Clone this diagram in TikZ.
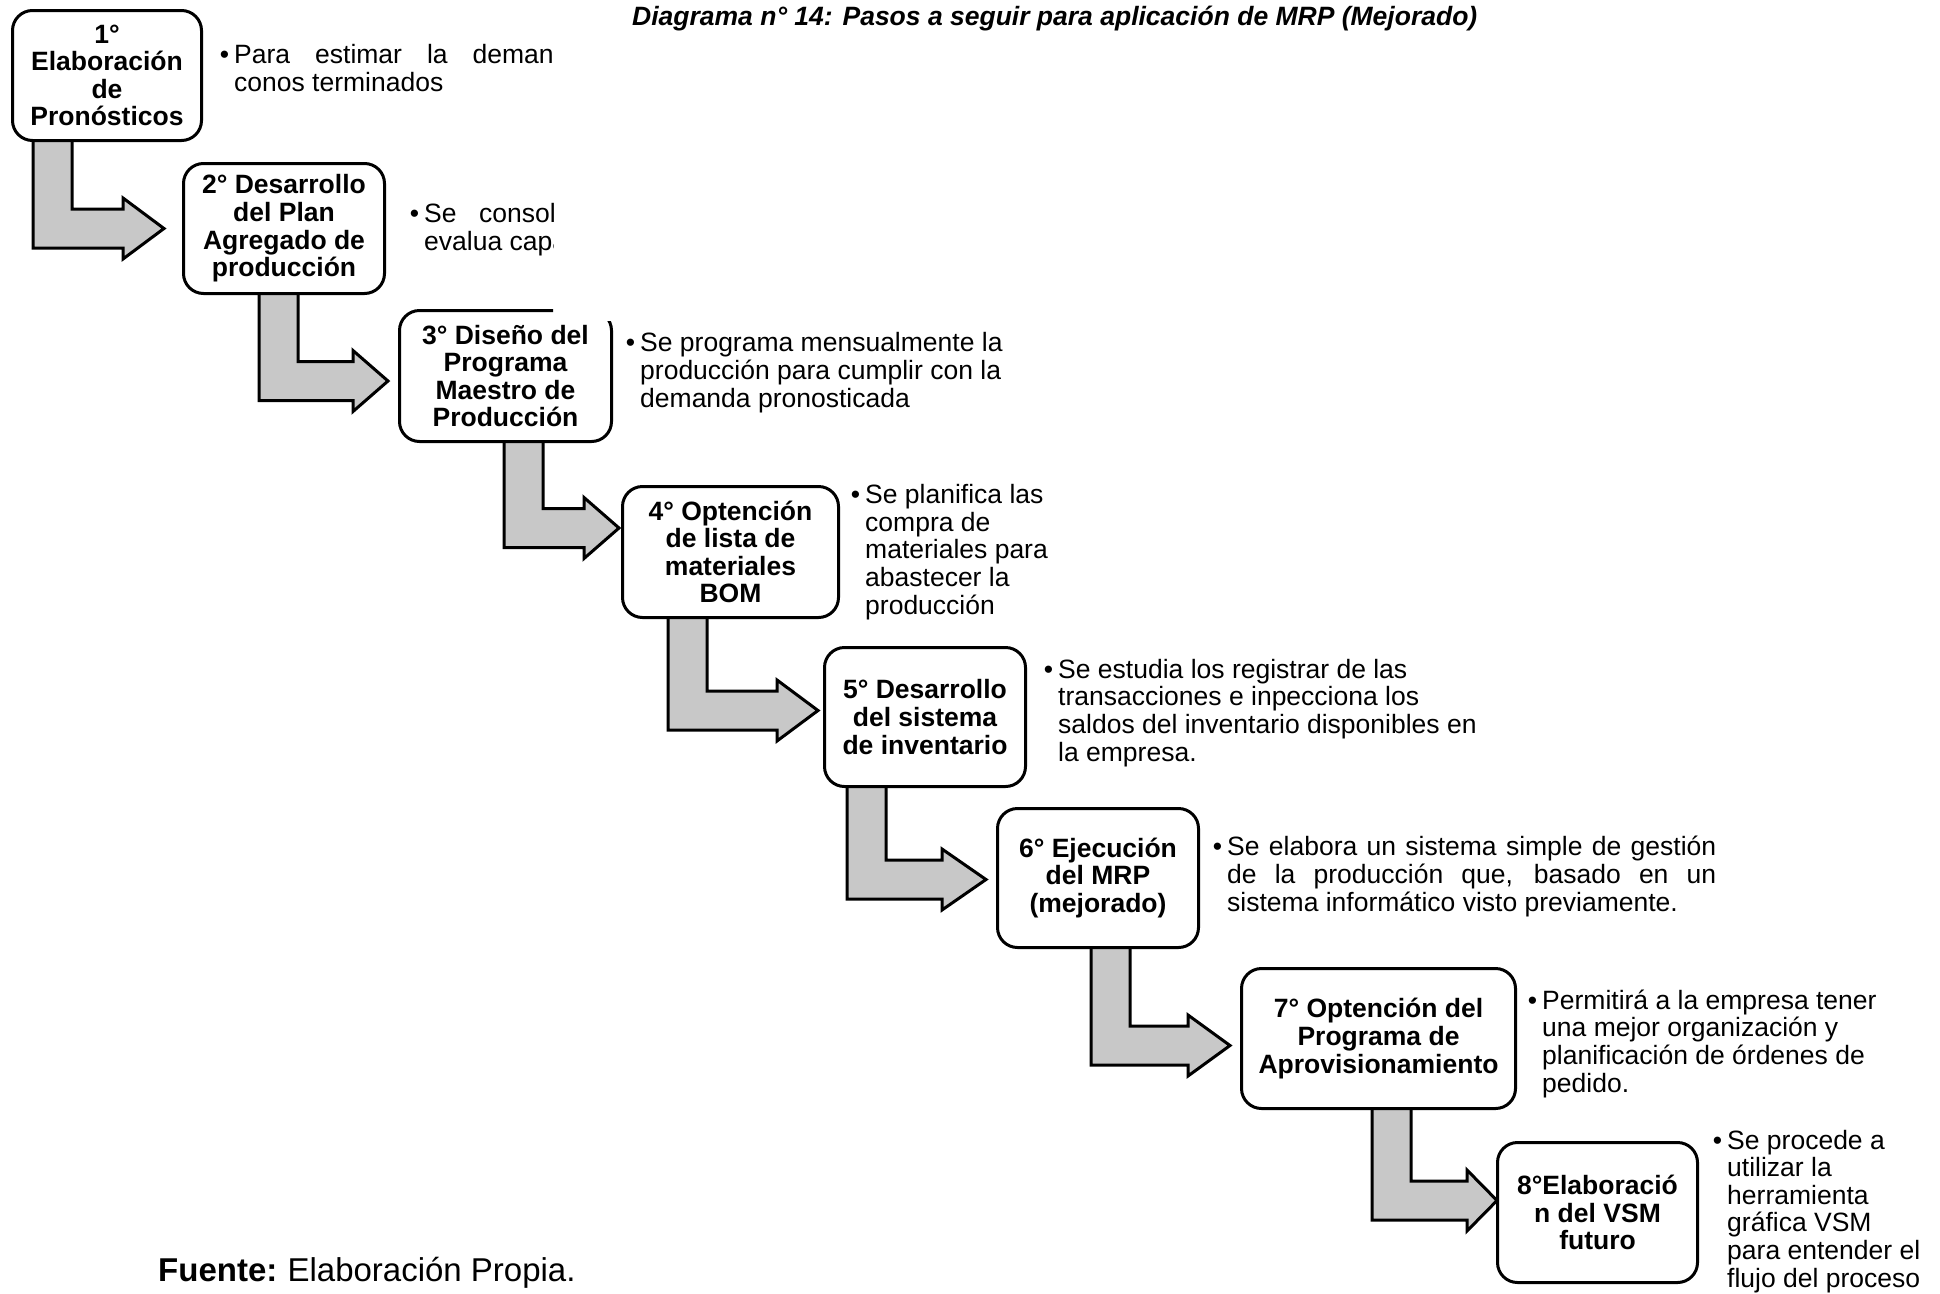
\documentclass[tikz,border=0pt]{standalone}
\usepackage{fontspec}
\setmainfont{Liberation Sans}
\usepackage{xcolor}
\usetikzlibrary{calc,backgrounds}

\definecolor{arrowgray}{RGB}{200,200,200}
\newcommand{\bul}{\llap{\textbullet\hspace{5pt}}}

\tikzset{
    stepbox/.style={draw, line width=3pt, rounded corners=20pt, fill=white,
        align=center, inner sep=0pt, font=\fontsize{26.5}{27.6}\selectfont\bfseries},
    descr/.style={anchor=base west, align=left, inner sep=0pt,
        font=\fontsize{26.5}{27.6}\selectfont},
    flowarrow/.style={draw, line width=3pt, fill=arrowgray, line join=miter}
}

\begin{document}
\begin{tikzpicture}[x=1pt, y=-1pt]
\useasboundingbox (0,0) rectangle (1940,1293);

% Title
\node[anchor=base west, inner sep=0pt, font=\fontsize{26.5}{30}\selectfont\bfseries\itshape]
    (title) at (632,25) {Diagrama n° 14: Pasos a seguir para aplicación de MRP (Mejorado)};

% Steps
\node[stepbox, minimum width=189pt, minimum height=130pt] (b1) at (107,75.5) {1°\\Elaboración\\de\\Pronósticos};
\node[stepbox, minimum width=201pt, minimum height=130pt] (b2) at (284,228.5) {2° Desarrollo\\del Plan\\Agregado de\\producción};
\begin{scope}
\clip (0,0) -- (553,0) -- (553,321) -- (1940,321) -- (1940,1293) -- (0,1293) -- cycle;
\node[stepbox, minimum width=212pt, minimum height=131pt] (b3) at (505.5,376) {3° Diseño del\\Programa\\Maestro de\\Producción};
% (anchored at the baseline of the last line)
\node[descr] (d1) at (234,91) {\bul\makebox[349pt][s]{Para estimar la demanda}\\conos terminados};
\node[descr] (d2) at (424,250) {\bul\makebox[167pt][s]{Se consolida}\\evalua capacidad};
\end{scope}
\node[stepbox, minimum width=216pt, minimum height=131pt] (b4) at (730.5,552) {4° Optención\\de lista de\\materiales\\BOM};
\node[stepbox, minimum width=201pt, minimum height=139pt] (b5) at (925,717) {5° Desarrollo\\del sistema\\de inventario};
\node[stepbox, minimum width=201pt, minimum height=139pt] (b6) at (1098,878) {6° Ejecución\\del MRP\\(mejorado)};
\node[stepbox, minimum width=274pt, minimum height=140pt] (b7) at (1378.5,1038.5) {7° Optención del\\Programa de\\Aprovisionamiento};
\node[stepbox, minimum width=200pt, minimum height=140pt] (b8) at (1597.5,1212.5) {8°Elaboració\\n del VSM\\futuro};

% Descriptions
\node[descr] (d3) at (640,407) {\bul Se programa mensualmente la\\producción para cumplir con la\\demanda pronosticada};
\node[descr] (d4) at (865,614) {\bul Se planifica las\\compra de\\materiales para\\abastecer la\\producción};
\node[descr] (d5) at (1058,761) {\bul Se estudia los registrar de las\\transacciones e inpecciona los\\saldos del inventario disponibles en\\la empresa.};
\node[descr] (d6) at (1227,911) {\bul\makebox[489pt][s]{Se elabora un sistema simple de gestión}\\\makebox[489pt][s]{de la producción que, basado en un}\\sistema informático visto previamente.};
\node[descr] (d7) at (1542,1092) {\bul Permitirá a la empresa tener\\una mejor organización y\\planificación de órdenes de\\pedido.};
\node[descr] (d8) at (1727,1287) {\bul Se procede a\\utilizar la\\herramienta\\gráfica VSM\\para entender el\\flujo del proceso};

% Source
\node[anchor=base west, inner sep=0pt, font=\fontsize{33}{36}\selectfont]
    (fuente) at (158,1281) {\textbf{Fuente:}\hspace{-2pt} Elaboración Propia.};

% Bent arrows between steps
\begin{scope}[on background layer]
\foreach \a/\b/\dx/\dy/\gap/\hl in {b1/b2/22/0/18/41, b2/b3/77/5/10/35, b3/b4/106/-24/2/35,
    b4/b5/47/-6.5/5/41, b5/b6/24/1.5/10/44, b6/b7/95/7/10/42, b7/b8/132/-12/-1/30} {
    \draw[flowarrow] let \p1 = ($(\a.south west)+(\dx,-8)$), \p2 = ($(\b.west)+(-\gap,\dy)$) in
        (\x1,\y1) -- (\x1+39pt,\y1) -- (\x1+39pt,\y2+19.5pt)
        -- (\x2-\hl*1pt,\y2+19.5pt) -- (\x2-\hl*1pt,\y2+30.5pt) -- (\x2,\y2)
        -- (\x2-\hl*1pt,\y2-30.5pt) -- (\x2-\hl*1pt,\y2-19.5pt) -- (\x1,\y2-19.5pt) -- cycle;
}
\end{scope}
\end{tikzpicture}
\end{document}
